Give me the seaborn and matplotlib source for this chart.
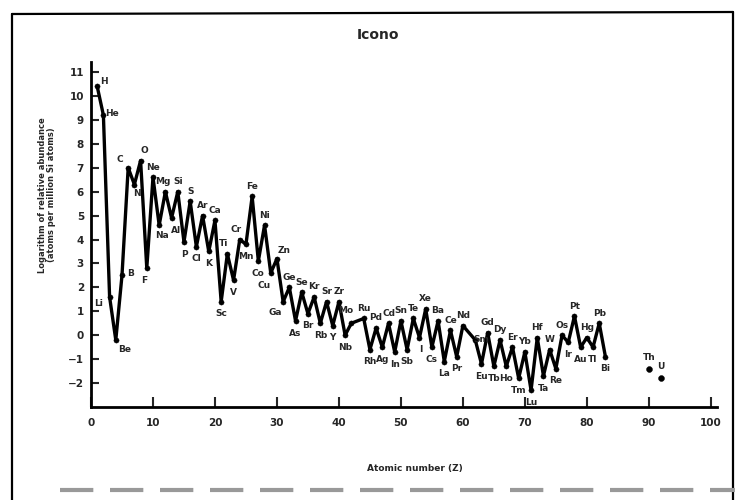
import numpy as np
import pandas as pd
import seaborn as sns
import matplotlib
matplotlib.use("Agg")
from matplotlib import pyplot as plt
from matplotlib.lines import Line2D

# element symbols, atomic numbers, log abundance (atoms per 10^6 Si)
symbols = ["H", "He", "Li", "Be", "B", "C", "N", "O", "F", "Ne",
           "Na", "Mg", "Al", "Si", "P", "S", "Cl", "Ar", "K", "Ca",
           "Sc", "Ti", "V", "Cr", "Mn", "Fe", "Co", "Ni", "Cu", "Zn",
           "Ga", "Ge", "As", "Se", "Br", "Kr", "Rb", "Sr", "Y", "Zr",
           "Nb", "Mo", "Ru", "Rh", "Pd", "Ag", "Cd", "In", "Sn", "Sb",
           "Te", "I", "Xe", "Cs", "Ba", "La", "Ce", "Pr", "Nd", "Sm",
           "Eu", "Gd", "Tb", "Dy", "Ho", "Er", "Tm", "Yb", "Lu", "Hf",
           "Ta", "W", "Re", "Os", "Ir", "Pt", "Au", "Hg", "Tl", "Pb", "Bi"]
atomic_no = [1, 2, 3, 4, 5, 6, 7, 8, 9, 10,
             11, 12, 13, 14, 15, 16, 17, 18, 19, 20,
             21, 22, 23, 24, 25, 26, 27, 28, 29, 30,
             31, 32, 33, 34, 35, 36, 37, 38, 39, 40,
             41, 42, 44, 45, 46, 47, 48, 49, 50, 51,
             52, 53, 54, 55, 56, 57, 58, 59, 60, 62,
             63, 64, 65, 66, 67, 68, 69, 70, 71, 72,
             73, 74, 75, 76, 77, 78, 79, 80, 81, 82, 83]
log_abund = [10.4, 9.2, 1.6, -0.2, 2.5, 7.0, 6.3, 7.3, 2.8, 6.6,
             4.6, 6.0, 4.9, 6.0, 3.9, 5.6, 3.7, 5.0, 3.5, 4.8,
             1.4, 3.4, 2.3, 4.0, 3.8, 5.8, 3.1, 4.6, 2.6, 3.2,
             1.4, 2.0, 0.6, 1.8, 0.9, 1.6, 0.5, 1.4, 0.4, 1.4,
             0.0, 0.5, 0.7, -0.6, 0.3, -0.5, 0.5, -0.7, 0.6, -0.6,
             0.7, -0.1, 1.1, -0.5, 0.6, -1.1, 0.2, -0.9, 0.4, -0.2,
             -1.2, 0.1, -1.3, -0.2, -1.3, -0.5, -1.8, -0.7, -2.3, -0.1,
             -1.7, -0.6, -1.4, 0.0, -0.3, 0.8, -0.5, -0.1, -0.5, 0.5, -0.9]

# Th and U, not joined to the main curve
heavy_symbols = ["Th", "U"]
heavy_no = [90, 92]
heavy_abund = [-1.4, -1.8]

df = pd.DataFrame({"Z": atomic_no, "logA": log_abund, "sym": symbols})
heavy = pd.DataFrame({"Z": heavy_no, "logA": heavy_abund, "sym": heavy_symbols})

sns.set_style("white")
fig = plt.figure(figsize=(7.4, 5), dpi=100)
ax = fig.add_axes([91/740, 1-407/500, 626/740, 344.5/500])

sns.lineplot(data=df, x="Z", y="logA", color="black", lw=2.4, ax=ax,
             sort=False, estimator=None)
sns.scatterplot(data=df, x="Z", y="logA", color="black", s=14, ax=ax,
                edgecolor="black", zorder=3)
sns.scatterplot(data=heavy, x="Z", y="logA", color="black", s=18, ax=ax,
                edgecolor="black", zorder=3)

# label placement: above for peaks, below for troughs
special = {"H": (5, 0), "He": (6, -2), "Li": (-8, -8), "B": (6, -2),
           "Be": (6, -10), "C": (-6, 3), "N": (2, -10), "O": (3, 4),
           "Na": (2, -11), "Al": (3, -12), "F": (-2, -12), "Mg": (-2, 4),
           "Ti": (-3, 4), "Cr": (-3, 4), "Mn": (0, -12), "Cu": (-5, -12),
           "Zn": (5, 3), "Ga": (-6, -11), "Mo": (-4, 6), "I": (1, -12),
           "Sm": (4, -3)}
vals = df["logA"].values
for i, row in df.iterrows():
    prev_v = vals[i-1] if i > 0 else -99
    next_v = vals[i+1] if i < len(vals)-1 else -99
    if row.sym in special:
        off = special[row.sym]
    elif row.logA >= prev_v and row.logA >= next_v:
        off = (0, 4)
    else:
        off = (0, -12)
    ax.annotate(row.sym, (row.Z, row.logA), xytext=off, textcoords="offset points",
                ha="center", va="bottom", fontsize=6.5, fontweight="bold")
for i, row in heavy.iterrows():
    ax.annotate(row.sym, (row.Z, row.logA), xytext=(0, 5), textcoords="offset points",
                ha="center", va="bottom", fontsize=6.5, fontweight="bold")

ax.set_xlim(0, 101)
ax.set_ylim(-3, 11.4)
ax.set_xticks(range(0, 101, 10))
ax.set_yticks(range(-2, 12))
ax.set_xlabel("")
ax.set_ylabel("")
for s in ["top", "right"]:
    ax.spines[s].set_visible(False)
for s in ["left", "bottom"]:
    ax.spines[s].set_linewidth(2)
    ax.spines[s].set_color("black")
ax.tick_params(axis="x", direction="in", length=7, width=1.5, pad=8, labelsize=7.5)
ax.tick_params(axis="y", direction="in", length=6, width=1.5, pad=5, labelsize=7.5)
ax.tick_params(left=True, bottom=True)
for lab in ax.get_xticklabels() + ax.get_yticklabels():
    lab.set_fontweight("bold")

fig.text(378/740, 1-35/500, "Icono", ha="center", va="center", fontsize=10, fontweight="bold")
fig.text(415/740, 1-468/500, "Atomic number (Z)", ha="center", va="center",
         fontsize=6.5, fontweight="bold")
fig.text(47/740, 1-195/500, "Logarithm of relative abundance\n(atoms per million Si atoms)",
         ha="center", va="center", rotation=90, fontsize=6, fontweight="bold",
         linespacing=1.1)

# page frame
frame_kw = dict(color="black", lw=1.6, transform=fig.transFigure)
fig.add_artist(Line2D([12/740, 12/740], [0, 1-14/500], **frame_kw))
fig.add_artist(Line2D([12/740, 733/740], [1-14/500, 1-12/500], **frame_kw))
fig.add_artist(Line2D([733/740, 733/740], [1-12/500, 0], **frame_kw))
fig.add_artist(Line2D([60/740, 735/740], [1-490/500, 1-490/500], color="#999999",
                      lw=3, ls=(0, (8, 4)), transform=fig.transFigure))

fig.savefig("out.png", dpi=100)
